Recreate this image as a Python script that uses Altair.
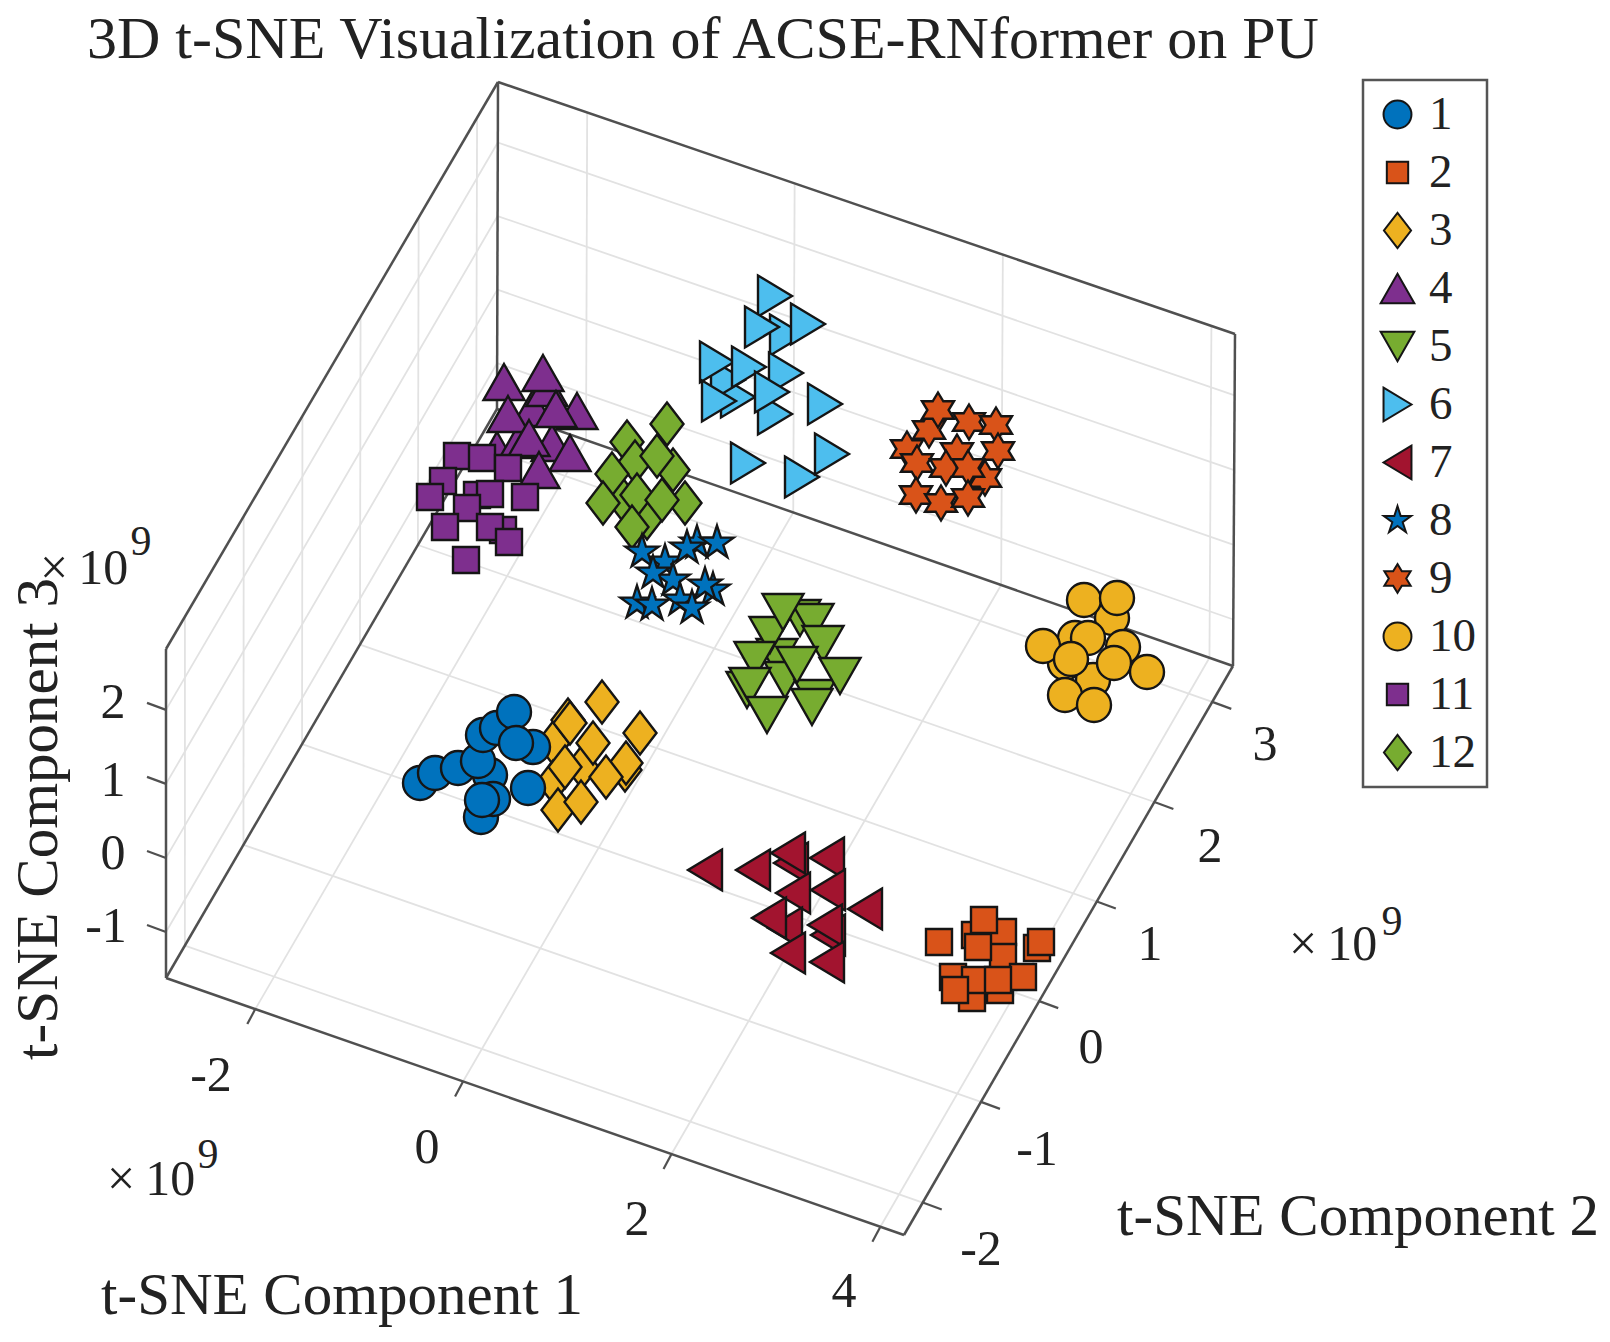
import altair as alt
import pandas as pd

FONT = "Liberation Serif"
INK = "#222222"

# --- picture-plane positions of the projected points, per class
S1 = [(420,783),(435,773),(458,768),(490,775),(478,761),(483,735),(497,728),(514,712),(533,747),(516,743),(481,817),(493,799),(482,800),(528,788)]
S2 = [(975,935),(1003,932),(1003,957),(1037,948),(953,977),(1000,990),(972,998),(975,980),(1023,977),(939,942),(984,920),(978,947),(1041,942),(998,980),(955,990)]
S3 = [(553,743),(553,782),(582,767),(625,770),(626,763),(640,733),(602,702),(568,720),(570,723),(593,743),(565,767),(606,777),(558,810),(581,802)]
S4 = [(497,450),(520,440),(552,443),(533,408),(547,388),(504,382),(543,373),(577,411),(508,414),(556,409),(529,438),(570,453),(539,470)]
S5 = [(800,618),(813,622),(777,657),(785,680),(815,698),(747,690),(770,635),(783,612),(823,644),(755,660),(797,665),(840,676),(750,686),(812,707),(767,715)]
S6 = [(787,335),(738,397),(728,380),(775,296),(762,327),(808,324),(717,362),(749,367),(786,373),(775,414),(719,401),(772,392),(825,404),(748,463),(802,477),(832,454)]
S7 = [(705,870),(753,870),(791,863),(788,853),(827,858),(793,893),(828,890),(865,909),(785,928),(769,918),(828,935),(825,925),(788,953),(827,962)]
S8 = [(697,543),(665,562),(713,590),(637,603),(673,580),(642,552),(687,548),(717,543),(653,573),(705,585),(680,600),(692,608),(652,605)]
S9 = [(929,430),(907,449),(957,452),(985,478),(938,410),(969,422),(996,425),(917,463),(998,451),(946,468),(968,468),(916,495),(941,503),(968,498)]
S10 = [(1112,618),(1075,638),(1065,663),(1093,680),(1084,600),(1117,598),(1043,646),(1123,647),(1088,638),(1071,659),(1114,663),(1147,672),(1065,695),(1094,705)]
S11 = [(457,456),(482,458),(508,468),(443,481),(430,497),(525,497),(477,495),(490,494),(467,508),(445,527),(503,530),(490,527),(509,542),(466,560)]
S12 = [(627,442),(673,470),(623,500),(647,518),(667,424),(635,462),(657,456),(612,474),(603,503),(637,495),(685,503),(662,500),(632,527)]
SERIES = {"1":S1,"2":S2,"3":S3,"4":S4,"5":S5,"6":S6,"7":S7,"8":S8,"9":S9,"10":S10,"11":S11,"12":S12}
DRAW_ORDER = ["3","1","2","4","5","6","7","12","8","9","10","11"]
CLASSES = [str(i) for i in range(1,13)]
COLORS = ["#0072BD","#D95319","#EDB120","#7E2F8E","#77AC30","#4DBEEE","#A2142F","#0072BD","#D95319","#EDB120","#7E2F8E","#77AC30"]

CIRCLE = "M-1.7,0A1.7,1.7 0 1,1 1.7,0A1.7,1.7 0 1,1 -1.7,0Z"
SQUARE = "M-1.3,-1.3L1.3,-1.3L1.3,1.3L-1.3,1.3Z"
DIAMOND = "M0,-2.15L1.65,0L0,2.15L-1.65,0Z"
UP = "M0,-1.8L2.05,1.8L-2.05,1.8Z"
DOWN = "M0,1.8L2.05,-1.8L-2.05,-1.8Z"
RIGHT = "M-1.7,-2.05L1.7,0L-1.7,2.05Z"
LEFT = "M1.7,-2.05L-1.7,0L1.7,2.05Z"
STAR5 = "M0,-1.75L0.39,-0.54L1.66,-0.54L0.63,0.21L1.03,1.41L0,0.67L-1.03,1.41L-0.63,0.21L-1.66,-0.54L-0.39,-0.54Z"
STAR6 = "M0,-1.75L0.53,-0.875L1.6,-0.875L1.06,0L1.6,0.875L0.53,0.875L0,1.75L-0.53,0.875L-1.6,0.875L-1.06,0L-1.6,-0.875L-0.53,-0.875Z"
SHAPES = [CIRCLE,SQUARE,DIAMOND,UP,DOWN,RIGHT,LEFT,STAR5,STAR6,CIRCLE,SQUARE,DIAMOND]

# --- corners of the projected box
L = (166,978); LT = (166,649); A = (498,82); RT = (1235,334); R = (1233,666); F = (904,1235); B = (497,409)
X_TICKS = [0.121,0.4025,0.685,0.968]
Y_TICKS = [0.057,0.234,0.411,0.586,0.761,0.937]
Z_TICKS = [0.140,0.365,0.590,0.815]

TICK_LABELS = [("-2",211,1076),("0",427,1148),("2",637,1220),("4",844,1292),
               ("-2",981,1250),("-1",1037,1150),("0",1091,1048),("1",1150,945),("2",1210,847),("3",1265,745),
               ("2",113,703),("1",113,781),("0",113,854),("-1",106,927)]
EXP_BASE = [("×\u200910",40,584),("×\u200910",107,1195),("×\u200910",1289,960)]
EXP_POWER = [("9",141,542),("9",208,1155),("9",1392,922)]
AXIS_TITLES = [("t-SNE Component 1",342,1296,0),("t-SNE Component 2",1358,1217,0),("t-SNE Component 3",39,819,270)]

def lerp(p,q,t):
    return (p[0]+t*(q[0]-p[0]), p[1]+t*(q[1]-p[1]))
def seg(p,q):
    return {"x":p[0],"y":p[1],"x2":q[0],"y2":q[1]}

grid = []
for t in X_TICKS:
    e,g,h = lerp(L,F,t),lerp(B,R,t),lerp(A,RT,t)
    grid += [seg(e,g),seg(g,h)]
for t in Y_TICKS:
    e,g,h = lerp(F,R,t),lerp(L,B,t),lerp(LT,A,t)
    grid += [seg(e,g),seg(g,h)]
for t in Z_TICKS:
    e,g,h = lerp(L,LT,t),lerp(B,A,t),lerp(R,RT,t)
    grid += [seg(e,g),seg(g,h)]

frame = [seg(L,LT),seg(LT,A),seg(A,RT),seg(RT,R),seg(A,B),seg(L,F),seg(F,R),seg(L,B),seg(B,R)]
ticks = []
for t in X_TICKS:
    e = lerp(L,F,t); ticks.append(seg(e,(e[0]-8,e[1]+15)))
for t in Y_TICKS:
    e = lerp(F,R,t); ticks.append(seg(e,(e[0]+19,e[1]+7)))
for t in Z_TICKS:
    e = lerp(L,LT,t); ticks.append(seg(e,(e[0]-19,e[1]-7)))

rows = []
for rank,c in enumerate(DRAW_ORDER):
    for i,(x,y) in enumerate(SERIES[c]):
        rows.append({"x":x,"y":y,"cls":c,"draw":rank*100+i})
points = pd.DataFrame(rows)

xs = alt.Scale(domain=[8,1602],nice=False,zero=False)
ys = alt.Scale(domain=[1334,70],nice=False,zero=False)
X = alt.X("x:Q",scale=xs,axis=None)
Y = alt.Y("y:Q",scale=ys,axis=None)

def rules(data,color,width):
    return alt.Chart(pd.DataFrame(data)).mark_rule(color=color,strokeWidth=width).encode(x=X,y=Y,x2="x2:Q",y2="y2:Q")

pts = alt.Chart(points).mark_point(filled=True,stroke="#151515",strokeWidth=2.4,opacity=1,size=400).encode(
    x=X,y=Y,
    fill=alt.Fill("cls:N",scale=alt.Scale(domain=CLASSES,range=COLORS),
        legend=alt.Legend(title=None,orient="none",legendX=1355,legendY=10,padding=11,symbolOffset=0,
            symbolSize=270,labelFont=FONT,labelFontSize=47,labelColor=INK,labelOffset=8,rowPadding=10,
            strokeColor="#555555",fillColor="white",symbolStrokeColor="#151515",symbolStrokeWidth=2,symbolOpacity=1)),
    shape=alt.Shape("cls:N",scale=alt.Scale(domain=CLASSES,range=SHAPES)),
    order=alt.Order("draw:Q"),
)

def texts(data,size,**kw):
    df = pd.DataFrame([d[:3] for d in data],columns=["t","x","y"])
    opts = dict(font=FONT,fontSize=size,color=INK,baseline="middle",align="center")
    opts.update(kw)
    return alt.Chart(df).mark_text(**opts).encode(x=X,y=Y,text="t:N")

chart = alt.layer(
    rules(grid,"#e2e2e2",1.8),
    rules(frame,"#505050",2.5),
    rules(ticks,"#505050",2.2),
    pts,
    texts(TICK_LABELS,50),
    texts(EXP_BASE,50,align="left",baseline="alphabetic"),
    texts(EXP_POWER,42),
    texts(AXIS_TITLES[:2],59),
    texts(AXIS_TITLES[2:],59,angle=270),
).resolve_scale(fill="independent",shape="independent").properties(
    width=1594,height=1264,
    padding={"left":0,"top":62,"right":0,"bottom":0},
    autosize=alt.AutoSizeParams(type="none"),
    title=alt.TitleParams("3D t-SNE Visualization of ACSE-RNformer on PU",anchor="start",frame="group",font=FONT,
        fontSize=60,fontWeight="normal",color=INK,offset=-1,dx=79),
).configure_view(stroke=None).configure_legend(strokeWidth=2.5)

chart.save("out.html",embed_options={"renderer":"svg","actions":False})
